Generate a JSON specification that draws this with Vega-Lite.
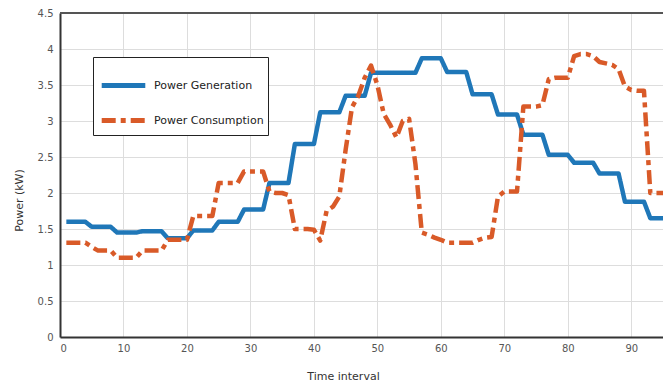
{
  "$schema": "https://vega.github.io/schema/vega-lite/v6.json",
  "width": 603,
  "height": 324,
  "autosize": {"type": "none"},
  "padding": {"left": 60, "top": 13, "right": 0, "bottom": 50},
  "background": "white",
  "config": {
    "view": {"stroke": null},
    "font": "DejaVu Sans",
    "axis": {
      "gridColor": "#dddddd",
      "gridWidth": 1,
      "domainColor": "#333333",
      "domainWidth": 2,
      "ticks": false,
      "labelColor": "#555555",
      "labelFontSize": 10,
      "titleFontSize": 11,
      "titleFontWeight": "normal",
      "titleColor": "#333333"
    }
  },
  "layer": [
    {
      "data": {
        "values": [
          {"t": 1, "Power Generation": 1.6, "Power Consumption": 1.31},
          {"t": 2, "Power Generation": 1.6, "Power Consumption": 1.31},
          {"t": 3, "Power Generation": 1.6, "Power Consumption": 1.31},
          {"t": 4, "Power Generation": 1.6, "Power Consumption": 1.31},
          {"t": 5, "Power Generation": 1.53, "Power Consumption": 1.25},
          {"t": 6, "Power Generation": 1.53, "Power Consumption": 1.2},
          {"t": 7, "Power Generation": 1.53, "Power Consumption": 1.2},
          {"t": 8, "Power Generation": 1.53, "Power Consumption": 1.2},
          {"t": 9, "Power Generation": 1.45, "Power Consumption": 1.1},
          {"t": 10, "Power Generation": 1.45, "Power Consumption": 1.1},
          {"t": 11, "Power Generation": 1.45, "Power Consumption": 1.1},
          {"t": 12, "Power Generation": 1.45, "Power Consumption": 1.1},
          {"t": 13, "Power Generation": 1.47, "Power Consumption": 1.2},
          {"t": 14, "Power Generation": 1.47, "Power Consumption": 1.2},
          {"t": 15, "Power Generation": 1.47, "Power Consumption": 1.2},
          {"t": 16, "Power Generation": 1.47, "Power Consumption": 1.2},
          {"t": 17, "Power Generation": 1.37, "Power Consumption": 1.35},
          {"t": 18, "Power Generation": 1.37, "Power Consumption": 1.35},
          {"t": 19, "Power Generation": 1.37, "Power Consumption": 1.35},
          {"t": 20, "Power Generation": 1.37, "Power Consumption": 1.35},
          {"t": 21, "Power Generation": 1.48, "Power Consumption": 1.68},
          {"t": 22, "Power Generation": 1.48, "Power Consumption": 1.68},
          {"t": 23, "Power Generation": 1.48, "Power Consumption": 1.68},
          {"t": 24, "Power Generation": 1.48, "Power Consumption": 1.68},
          {"t": 25, "Power Generation": 1.6, "Power Consumption": 2.14},
          {"t": 26, "Power Generation": 1.6, "Power Consumption": 2.14},
          {"t": 27, "Power Generation": 1.6, "Power Consumption": 2.14},
          {"t": 28, "Power Generation": 1.6, "Power Consumption": 2.14},
          {"t": 29, "Power Generation": 1.77, "Power Consumption": 2.3},
          {"t": 30, "Power Generation": 1.77, "Power Consumption": 2.3},
          {"t": 31, "Power Generation": 1.77, "Power Consumption": 2.3},
          {"t": 32, "Power Generation": 1.77, "Power Consumption": 2.3},
          {"t": 33, "Power Generation": 2.14, "Power Consumption": 2.02},
          {"t": 34, "Power Generation": 2.14, "Power Consumption": 2.0},
          {"t": 35, "Power Generation": 2.14, "Power Consumption": 2.0},
          {"t": 36, "Power Generation": 2.14, "Power Consumption": 1.97},
          {"t": 37, "Power Generation": 2.68, "Power Consumption": 1.5},
          {"t": 38, "Power Generation": 2.68, "Power Consumption": 1.5},
          {"t": 39, "Power Generation": 2.68, "Power Consumption": 1.5},
          {"t": 40, "Power Generation": 2.68, "Power Consumption": 1.49},
          {"t": 41, "Power Generation": 3.12, "Power Consumption": 1.34},
          {"t": 42, "Power Generation": 3.12, "Power Consumption": 1.75},
          {"t": 43, "Power Generation": 3.12, "Power Consumption": 1.81},
          {"t": 44, "Power Generation": 3.12, "Power Consumption": 1.95},
          {"t": 45, "Power Generation": 3.35, "Power Consumption": 2.6},
          {"t": 46, "Power Generation": 3.35, "Power Consumption": 3.19},
          {"t": 47, "Power Generation": 3.35, "Power Consumption": 3.35},
          {"t": 48, "Power Generation": 3.35, "Power Consumption": 3.6},
          {"t": 49, "Power Generation": 3.67, "Power Consumption": 3.77},
          {"t": 50, "Power Generation": 3.67, "Power Consumption": 3.5},
          {"t": 51, "Power Generation": 3.67, "Power Consumption": 3.1},
          {"t": 52, "Power Generation": 3.67, "Power Consumption": 2.95},
          {"t": 53, "Power Generation": 3.67, "Power Consumption": 2.77},
          {"t": 54, "Power Generation": 3.67, "Power Consumption": 3.0},
          {"t": 55, "Power Generation": 3.67, "Power Consumption": 3.03},
          {"t": 56, "Power Generation": 3.67, "Power Consumption": 2.4},
          {"t": 57, "Power Generation": 3.87, "Power Consumption": 1.45},
          {"t": 58, "Power Generation": 3.87, "Power Consumption": 1.42},
          {"t": 59, "Power Generation": 3.87, "Power Consumption": 1.38},
          {"t": 60, "Power Generation": 3.87, "Power Consumption": 1.35},
          {"t": 61, "Power Generation": 3.68, "Power Consumption": 1.31},
          {"t": 62, "Power Generation": 3.68, "Power Consumption": 1.31},
          {"t": 63, "Power Generation": 3.68, "Power Consumption": 1.31},
          {"t": 64, "Power Generation": 3.68, "Power Consumption": 1.31},
          {"t": 65, "Power Generation": 3.37, "Power Consumption": 1.31},
          {"t": 66, "Power Generation": 3.37, "Power Consumption": 1.35},
          {"t": 67, "Power Generation": 3.37, "Power Consumption": 1.38},
          {"t": 68, "Power Generation": 3.37, "Power Consumption": 1.39},
          {"t": 69, "Power Generation": 3.09, "Power Consumption": 1.95},
          {"t": 70, "Power Generation": 3.09, "Power Consumption": 2.02},
          {"t": 71, "Power Generation": 3.09, "Power Consumption": 2.02},
          {"t": 72, "Power Generation": 3.09, "Power Consumption": 2.02},
          {"t": 73, "Power Generation": 2.81, "Power Consumption": 3.2},
          {"t": 74, "Power Generation": 2.81, "Power Consumption": 3.2},
          {"t": 75, "Power Generation": 2.81, "Power Consumption": 3.2},
          {"t": 76, "Power Generation": 2.81, "Power Consumption": 3.22},
          {"t": 77, "Power Generation": 2.53, "Power Consumption": 3.58},
          {"t": 78, "Power Generation": 2.53, "Power Consumption": 3.6},
          {"t": 79, "Power Generation": 2.53, "Power Consumption": 3.6},
          {"t": 80, "Power Generation": 2.53, "Power Consumption": 3.6},
          {"t": 81, "Power Generation": 2.42, "Power Consumption": 3.9},
          {"t": 82, "Power Generation": 2.42, "Power Consumption": 3.93},
          {"t": 83, "Power Generation": 2.42, "Power Consumption": 3.93},
          {"t": 84, "Power Generation": 2.42, "Power Consumption": 3.9},
          {"t": 85, "Power Generation": 2.27, "Power Consumption": 3.82},
          {"t": 86, "Power Generation": 2.27, "Power Consumption": 3.8},
          {"t": 87, "Power Generation": 2.27, "Power Consumption": 3.78},
          {"t": 88, "Power Generation": 2.27, "Power Consumption": 3.72},
          {"t": 89, "Power Generation": 1.88, "Power Consumption": 3.48},
          {"t": 90, "Power Generation": 1.88, "Power Consumption": 3.43},
          {"t": 91, "Power Generation": 1.88, "Power Consumption": 3.42},
          {"t": 92, "Power Generation": 1.88, "Power Consumption": 3.42},
          {"t": 93, "Power Generation": 1.65, "Power Consumption": 2.0},
          {"t": 94, "Power Generation": 1.65, "Power Consumption": 2.0},
          {"t": 95, "Power Generation": 1.65, "Power Consumption": 2.0},
          {"t": 96, "Power Generation": 1.65, "Power Consumption": 2.0}
        ]
      },
      "transform": [
        {"fold": ["Power Generation", "Power Consumption"], "as": ["series", "power"]}
      ],
      "mark": {"type": "line", "clip": true, "strokeWidth": 4.5, "strokeJoin": "round"},
      "encoding": {
        "x": {
          "field": "t",
          "type": "quantitative",
          "title": "Time interval",
          "scale": {"domain": [0, 95], "nice": false},
          "axis": {
            "values": [0, 10, 20, 30, 40, 50, 60, 70, 80, 90],
            "labelPadding": 6,
            "titleX": 283,
            "titleY": 33
          }
        },
        "y": {
          "field": "power",
          "type": "quantitative",
          "title": "Power (kW)",
          "scale": {"domain": [0, 4.5], "nice": false},
          "axis": {
            "values": [0, 0.5, 1, 1.5, 2, 2.5, 3, 3.5, 4, 4.5],
            "tickCount": 10,
            "format": "~g",
            "grid": true,
            "labelOverlap": false,
            "labelPadding": 7,
            "titleX": -36,
            "titleY": 187
          }
        },
        "color": {
          "field": "series",
          "type": "nominal",
          "title": null,
          "scale": {
            "domain": ["Power Generation", "Power Consumption"],
            "range": ["#1f77b8", "#d95a28"]
          },
          "legend": {
            "orient": "none",
            "legendX": 33,
            "legendY": 44,
            "symbolType": "stroke",
            "symbolSize": 1900,
            "symbolStrokeWidth": 5,
            "symbolOffset": 2,
            "labelFontSize": 11,
            "labelColor": "#222222",
            "labelOffset": 6,
            "strokeColor": "#222222",
            "fillColor": "white",
            "padding": 4,
            "rowPadding": 0
          }
        },
        "strokeDash": {
          "field": "series",
          "type": "nominal",
          "title": null,
          "scale": {
            "domain": ["Power Generation", "Power Consumption"],
            "range": [[1, 0], [14, 5, 5, 5]]
          }
        }
      }
    },
    {
      "data": {"values": [{"edge": "top"}]},
      "mark": {"type": "rule", "color": "#555555", "strokeWidth": 2},
      "encoding": {
        "y": {
          "datum": 4.5,
          "type": "quantitative",
          "title": "Power (kW)",
          "scale": {"domain": [0, 4.5], "nice": false},
          "axis": {
            "values": [0, 0.5, 1, 1.5, 2, 2.5, 3, 3.5, 4, 4.5],
            "tickCount": 10,
            "format": "~g",
            "grid": true,
            "labelOverlap": false,
            "labelPadding": 7,
            "titleX": -36,
            "titleY": 187
          }
        }
      }
    }
  ]
}
